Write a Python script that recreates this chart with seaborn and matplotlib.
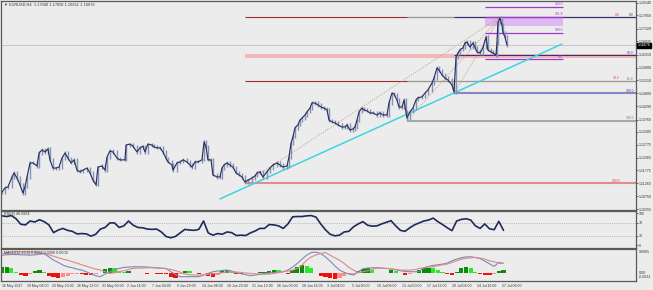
import matplotlib
matplotlib.use("Agg")
import matplotlib.pyplot as plt
import seaborn as sns
import numpy as np
import pandas as pd

sns.set_style("white")
plt.rcParams['font.family'] = ['Liberation Sans', 'DejaVu Sans']

# ---------------- data ----------------
price_bar = [0, 1.9, 3.8, 6.4, 7.7, 9.6, 11.5, 13.4, 14.7, 16.0,
             17.9, 19.8, 22.4, 23.7, 25.6, 27.5, 29.4, 30.7, 32.6, 34.6,
             36.5, 38.4, 40.3, 42.2, 44.2, 46.1, 48.0, 49.9, 51.8, 54.4,
             56.3, 58.2, 60.2, 61.4, 64.0, 65.9, 67.2, 69.1, 71.0, 73.6,
             75.5, 78.7, 79.4, 81.9, 83.8, 86.4, 88.3, 90.2, 91.5, 93.4,
             96.0, 97.3, 99.2, 101.1, 103.0, 105.0, 106.2, 108.8, 109.4, 112.0,
             113.9, 115.8, 118.4, 120.3, 121.6, 123.5, 125.4, 128.0, 129.3, 130.6,
             131.8, 133.8, 135.0, 137.6, 139.5, 140.8, 142.1, 144.0, 145.9, 147.8,
             149.8, 151.7, 153.6, 155.5, 157.4, 160.0, 161.9, 163.2, 165.1, 167.0,
             169.6, 171.5, 173.4, 176.0, 177.9, 179.8, 182.4, 183.7, 185.0, 186.2,
             187.5, 189.4, 190.7, 192.0, 193.9, 195.2, 197.1, 198.4, 200.3, 202.2,
             204.2, 206.1, 208.0, 209.3, 211.2, 213.1, 215.0, 217.6, 219.5, 220.8,
             222.7, 224.6, 225.9, 227.2, 228.5, 230.4, 231.7, 233.6, 235.5, 237.4,
             240.0, 241.9, 243.8, 246.4, 247.7, 249.6, 250.9, 252.8, 254.1, 256.0,
             257.3, 258.6, 259.2, 261.1, 263.0, 265.0, 266.2, 268.8, 270.7, 272.6,
             275.2, 276.5, 278.4, 279.7, 281.6, 283.5, 285.4, 288.0, 289.3, 290.6,
             291.8, 293.1, 295.0, 296.3, 297.6, 299.5, 301.4, 302.7, 304.0, 305.9,
             307.8, 309.8, 311.0, 313.0, 314.2, 316.2, 316.8, 317.4, 318.7, 320.0,
             320.6, 321.9, 323.2]
price_close = [1.1092, 1.1108, 1.1112, 1.1151, 1.1167, 1.1147, 1.1120, 1.1088, 1.1112, 1.1151,
               1.1206, 1.1206, 1.1194, 1.1245, 1.1257, 1.1249, 1.1261, 1.1218, 1.1186, 1.1186,
               1.1190, 1.1225, 1.1245, 1.1225, 1.1206, 1.1218, 1.1178, 1.1171, 1.1178, 1.1186,
               1.1167, 1.1139, 1.1120, 1.1190, 1.1194, 1.1178, 1.1229, 1.1253, 1.1249, 1.1225,
               1.1218, 1.1218, 1.1276, 1.1280, 1.1272, 1.1249, 1.1265, 1.1272, 1.1249, 1.1280,
               1.1276, 1.1269, 1.1265, 1.1265, 1.1249, 1.1225, 1.1210, 1.1198, 1.1178, 1.1206,
               1.1210, 1.1218, 1.1210, 1.1198, 1.1190, 1.1210, 1.1210, 1.1218, 1.1288, 1.1269,
               1.1218, 1.1218, 1.1159, 1.1151, 1.1151, 1.1186, 1.1198, 1.1206, 1.1198, 1.1190,
               1.1167, 1.1159, 1.1151, 1.1131, 1.1139, 1.1147, 1.1155, 1.1167, 1.1171, 1.1151,
               1.1171, 1.1186, 1.1198, 1.1206, 1.1198, 1.1190, 1.1194, 1.1229, 1.1284, 1.1308,
               1.1343, 1.1355, 1.1374, 1.1382, 1.1394, 1.1406, 1.1421, 1.1441, 1.1441, 1.1433,
               1.1425, 1.1421, 1.1414, 1.1374, 1.1367, 1.1363, 1.1355, 1.1347, 1.1347, 1.1355,
               1.1335, 1.1339, 1.1347, 1.1374, 1.1406, 1.1421, 1.1414, 1.1410, 1.1402, 1.1402,
               1.1394, 1.1402, 1.1394, 1.1394, 1.1441, 1.1480, 1.1476, 1.1453, 1.1425, 1.1425,
               1.1453, 1.1406, 1.1382, 1.1406, 1.1421, 1.1453, 1.1461, 1.1465, 1.1480, 1.1492,
               1.1519, 1.1539, 1.1578, 1.1570, 1.1551, 1.1539, 1.1531, 1.1512, 1.1484, 1.1621,
               1.1637, 1.1649, 1.1657, 1.1676, 1.1680, 1.1660, 1.1676, 1.1660, 1.1641, 1.1637,
               1.1657, 1.1700, 1.1649, 1.1641, 1.1637, 1.1629, 1.1676, 1.1755, 1.1774, 1.1747,
               1.1719, 1.1700, 1.1668]

ind_bar = list(range(0, 322, 3))
rsi = [92, 90, 93, 83, 66, 64, 76, 73, 80, 74,
       64, 40, 48, 53, 47, 44, 36, 37, 36, 29,
       35, 51, 56, 70, 70, 56, 61, 76, 63, 56,
       55, 51, 50, 51, 42, 28, 24, 28, 39, 50,
       48, 47, 50, 76, 39, 32, 37, 35, 42, 40,
       31, 32, 31, 39, 45, 53, 53, 65, 64, 61,
       53, 67, 89, 90, 90, 92, 93, 88, 67, 49,
       35, 30, 32, 42, 44, 58, 67, 74, 63, 60,
       61, 67, 72, 77, 61, 47, 44, 55, 64, 70,
       76, 79, 85, 74, 65, 55, 46, 76, 81, 83,
       79, 61, 53, 67, 52, 49, 75, 47]
macd_main = [0.00466, 0.00475, 0.00484, 0.00484, 0.00475, 0.00475, 0.00466, 0.00475, 0.00493, 0.00502,
             0.00422, 0.00334, 0.00273, 0.00202, 0.00158, 0.00132, 0.00097, 0.00070, 0.00026, -0.00035,
             -0.00079, -0.00106, -0.00035, 0.00026, 0.00070, 0.00114, 0.00141, 0.00150, 0.00158, 0.00158,
             0.00158, 0.00150, 0.00141, 0.00132, 0.00123, 0.00114, 0.00026, -0.00044, -0.00106, -0.00106,
             -0.00106, -0.00106, -0.00106, -0.00062, -0.00018, 0.00026, 0.00044, 0.00062, 0.00070, 0.00044,
             0.0, -0.00026, -0.00053, -0.00079, -0.00062, -0.00044, -0.00018, -0.00009, 0.0, 0.00009,
             0.00026, 0.00070, 0.00150, 0.00246, 0.00361, 0.00466, 0.00537, 0.00546, 0.00510, 0.00422,
             0.00308, 0.00185, 0.00070, 0.00009, -0.00035, -0.00062, 0.00026, 0.00106, 0.00123, 0.00132,
             0.00132, 0.00123, 0.00114, 0.00097, 0.00079, 0.00053, 0.00035, 0.00026, 0.00026, 0.00035,
             0.00132, 0.00167, 0.00194, 0.00211, 0.00229, 0.00255, 0.00317, 0.00361, 0.00396, 0.00422,
             0.00422, 0.00405, 0.00378, 0.00308, 0.00238, 0.00167, 0.00273, 0.00246]
macd_signal = [0.00510, 0.00528, 0.00546, 0.00554, 0.00554, 0.00554, 0.00554, 0.00554, 0.00537, 0.00510,
               0.00475, 0.00440, 0.00396, 0.00361, 0.00334, 0.00290, 0.00255, 0.00211, 0.00176, 0.00132,
               0.00097, 0.00070, 0.00026, -0.00018, 0.0, 0.00026, 0.00053, 0.00088, 0.00114, 0.00123,
               0.00123, 0.00132, 0.00132, 0.00123, 0.00114, 0.00106, 0.00088, 0.00053, 0.00018, -0.00035,
               -0.00053, -0.00062, -0.00062, -0.00053, -0.00044, -0.00026, -0.00018, 0.0, 0.00018, 0.00026,
               0.00018, 0.00009, -0.00009, -0.00018, -0.00026, -0.00035, -0.00044, -0.00035, -0.00018, 0.0,
               0.00026, 0.00044, 0.00070, 0.00114, 0.00202, 0.00334, 0.00422, 0.00475, 0.00510, 0.00537,
               0.00466, 0.00396, 0.00334, 0.00246, 0.00141, 0.00070, 0.0, 0.00026, 0.00053, 0.00088,
               0.00123, 0.00123, 0.00114, 0.00106, 0.00088, 0.00070, 0.00070, 0.00070, 0.00079, 0.00114,
               0.00132, 0.00150, 0.00158, 0.00185, 0.00211, 0.00229, 0.00273, 0.00317, 0.00361, 0.00378,
               0.00396, 0.00405, 0.00387, 0.00361, 0.00317, 0.00290, 0.00255, 0.00246]
macd_hist = [0.00150, 0.00158, 0.00114, 0.00026, -0.00062, -0.00079, -0.00044, 0.00053, 0.00070, 0.00026,
             -0.00079, -0.00123, -0.00132, -0.00106, -0.00079, -0.00044, -0.00035, -0.00044, -0.00053, -0.00062,
             -0.00044, -0.00018, 0.00097, 0.00132, 0.00114, 0.00053, 0.00018, 0.00053, 0.0, -0.00018,
             -0.00018, -0.00026, -0.00018, -0.00026, -0.00026, -0.00044, -0.00106, -0.00141, -0.00044, 0.00053,
             0.00035, -0.00009, -0.00026, -0.00018, -0.00079, -0.00106, -0.00062, 0.00053, 0.00070, 0.00044,
             -0.00026, -0.00035, -0.00018, -0.00009, 0.0, 0.00009, 0.00018, 0.00053, 0.00079, 0.00062,
             0.0, -0.00026, 0.00070, 0.00158, 0.00202, 0.00185, 0.00114, -0.00018, -0.00088, -0.00114,
             -0.00150, -0.00167, -0.00150, -0.00097, -0.00044, -0.00035, 0.00035, 0.00097, 0.00114, 0.00062,
             -0.00009, -0.00018, 0.0, 0.00062, 0.00044, -0.00018, -0.00053, -0.00044, -0.00018, 0.00062,
             0.00114, 0.00132, 0.00114, 0.00070, 0.00026, -0.00026, -0.00053, 0.00026, 0.00114, 0.00141,
             0.00114, 0.00009, -0.00035, -0.00053, -0.00062, -0.00035, 0.00053, 0.00062]

price_ticks = [1.18340, 1.17850, 1.17320, 1.16825, 1.16310, 1.15800, 1.15310, 1.14800,
               1.14290, 1.13760, 1.13285, 1.12775, 1.12265, 1.11775, 1.11260, 1.10750, 1.10255]
last_price = 1.16676
rsi_ticks = [100, 70, 30, 0]
date_bar = list(range(0, 321, 16))
date_labels = ["16 May 2017", "19 May 08:00", "23 May 20:00", "26 May 12:00", "31 May 00:00",
               "2 Jun 16:00", "7 Jun 04:00", "9 Jun 20:00", "14 Jun 08:00", "18 Jun 23:00",
               "21 Jun 12:00", "26 Jun 00:00", "28 Jun 16:00", "3 Jul 04:00", "5 Jul 20:00",
               "10 Jul 08:00", "13 Jul 00:00", "17 Jul 12:00", "20 Jul 04:00", "24 Jul 16:00",
               "27 Jul 08:00"]

# Fibonacci tools (anchor bar, low, high)
red_fib = dict(start=155.5, low=1.1126, high=1.1777, hi_bar=318.7)
gray_fib = dict(start=259.2, low=1.13716, high=1.1777, hi_bar=318.7)
blue_fib = dict(start=289.3, low=1.1479, high=1.1777, hi_bar=318.7)
purple_exp = dict(start=309.1, end=359.0, base=1.16122, unit=0.01031)
trend_bar = [139.5, 358.4]
trend_price = [1.1065, 1.1672]

# ---------------- figure ----------------
BG = '#ECECEC'
W, H = 653, 290
fig = plt.figure(figsize=(W / 100, H / 100), dpi=100, facecolor=BG)


def box(x0, y0, x1, y1):
    return [x0 / W, 1 - y1 / H, (x1 - x0) / W, (y1 - y0) / H]


ax = fig.add_axes(box(1, 1, 636, 210))
ax_rsi = fig.add_axes(box(1, 211, 636, 248))
ax_macd = fig.add_axes(box(1, 249, 636, 281))
XL = (-0.64, 405.8)
for a in (ax, ax_rsi, ax_macd):
    a.set_facecolor(BG)
    a.set_xlim(*XL)
    for s in a.spines.values():
        s.set_color('#5A5A5A')
        s.set_linewidth(0.9)

FS = 2.6
LFS = 2.4
RIGHT_LBL = 404.5
RED_LBL = 395.5


def lvl(f, r):
    return f['high'] - (f['high'] - f['low']) * r / 100.0


# red fib
ax.hlines(lvl(red_fib, 23.6), red_fib['start'], XL[1], color='#F2B9B9', lw=2.9, zorder=1)
ax.hlines(lvl(red_fib, 0), red_fib['start'], XL[1], color='#9B2D2D', lw=0.8, zorder=1)
ax.hlines(lvl(red_fib, 38.2), red_fib['start'], XL[1], color='#9B2D2D', lw=0.8, zorder=1)
ax.hlines(lvl(red_fib, 100), red_fib['start'], XL[1], color='#DE8E8E', lw=1.5, zorder=1)
# gray fib
ax.hlines(lvl(gray_fib, 0), gray_fib['start'], XL[1], color='#9A9A9A', lw=0.8, zorder=1.1)
ax.hlines(lvl(gray_fib, 61.8), gray_fib['start'], XL[1], color='#9A9A9A', lw=0.8, zorder=1.1)
ax.hlines(lvl(gray_fib, 100), gray_fib['start'], XL[1], color='#A8A8A8', lw=1.5, zorder=1.1)
# blue fib
ax.hlines(lvl(blue_fib, 0), blue_fib['start'], XL[1], color='#33337A', lw=0.8, zorder=1.2)
ax.hlines(lvl(blue_fib, 50), blue_fib['start'], XL[1], color='#33337A', lw=0.8, zorder=1.2)
ax.hlines(lvl(blue_fib, 100), blue_fib['start'], XL[1], color='#8585C8', lw=1.5, zorder=1.2)
# anchor dotted lines
for f in (red_fib, gray_fib, blue_fib):
    ax.plot([f['start'], f['hi_bar']], [f['low'], f['high']], ls=(0, (1, 1.4)),
            color='#C9987A', lw=0.7, zorder=1.3)
# purple expansion
pe = purple_exp
ax.fill_between([pe['start'], pe['end']], pe['base'] + 1.272 * pe['unit'],
                pe['base'] + 1.618 * pe['unit'], color='#DDB8F2', lw=0, zorder=1)
for r in (0, 1.0, 1.618, 2.0):
    ax.hlines(pe['base'] + r * pe['unit'], pe['start'], pe['end'], color='#A035D2', lw=0.9, zorder=1.4)
    ax.text(pe['end'], pe['base'] + r * pe['unit'] + 0.0002, f"{r*100:.1f}", fontsize=LFS,
            color='#A035D2', ha='right', va='bottom')

# level labels
for r, t in ((0, '0.0'), (38.2, '38.2'), (100, '100.0')):
    ax.text(RED_LBL, lvl(red_fib, r) + 0.0002, t, fontsize=LFS, color='#C84848', ha='right', va='bottom')
for r, t in ((61.8, '61.8'), (100, '100.0')):
    ax.text(RIGHT_LBL, lvl(gray_fib, r) + 0.0002, t, fontsize=LFS, color='#7E7E7E', ha='right', va='bottom')
for r, t in ((0, '0.0'), (50, '50.0'), (100, '100.0')):
    ax.text(RIGHT_LBL, lvl(blue_fib, r) + 0.0002, t, fontsize=LFS, color='#4848A0', ha='right', va='bottom')

# bid line
ax.axhline(last_price, color='#C6C6C6', lw=0.7, zorder=1.5)

# trend line
ax.plot(trend_bar, trend_price, color='#3ED4DE', lw=1.1, zorder=2)

# price bars
df = pd.DataFrame({'bar': price_bar, 'close': price_close})
prev = df['close'].shift(1).fillna(df['close'])
lo = np.minimum(prev, df['close'])
hi = np.maximum(prev, df['close'])
ax.vlines(df['bar'], lo - 0.0006, hi + 0.0006, color='#8692B6', lw=1.0, zorder=3)
sns.lineplot(data=df, x='bar', y='close', ax=ax, color='#27325F', lw=0.85, zorder=4)

ax.set_ylim(1.10216, 1.18407)
ax.set_xlabel('')
ax.set_ylabel('')
ax.set_xticks([])
ax.yaxis.tick_right()
ax.set_yticks(price_ticks)
ax.set_yticklabels([f"{v:.5f}" for v in price_ticks])
ax.tick_params(axis='y', labelsize=FS, length=1.2, pad=0.6, colors='#333333', width=0.5)
ax.text(1.0025, last_price, '1.16676', transform=ax.get_yaxis_transform(), fontsize=FS,
        color='white', ha='left', va='center',
        bbox=dict(facecolor='black', edgecolor='black', pad=0.3))
ax.text(0.004, 0.982, '\u25BC EURUSD,H4  1.17040 1.17058 1.16651 1.16676', transform=ax.transAxes,
        fontsize=2.8, color='#333333', ha='left', va='center')

# RSI
rdf = pd.DataFrame({'bar': ind_bar, 'rsi': rsi})
for v in (70, 30):
    ax_rsi.axhline(v, color='#A8A8A8', lw=0.5, ls=(0, (1.5, 1.5)))
sns.lineplot(data=rdf, x='bar', y='rsi', ax=ax_rsi, color='#1E2A5A', lw=1.2)
ax_rsi.set_ylim(-7.8, 107.1)
ax_rsi.set_xlabel('')
ax_rsi.set_ylabel('')
ax_rsi.set_xticks([])
ax_rsi.yaxis.tick_right()
ax_rsi.set_yticks(rsi_ticks)
ax_rsi.set_yticklabels([str(v) for v in rsi_ticks])
ax_rsi.tick_params(axis='y', labelsize=FS, length=1.2, pad=0.6, colors='#333333', width=0.5)
ax_rsi.text(0.004, 0.91, 'RSI(8) 46.5664', transform=ax_rsi.transAxes, fontsize=2.7,
            color='#333333', ha='left', va='center')

# MACD
mdf = pd.DataFrame({'bar': ind_bar, 'main': macd_main, 'signal': macd_signal, 'hist': macd_hist})
hv = mdf['hist'].to_numpy()
dh = np.diff(hv, prepend=hv[0])
cols = []
for v, d in zip(hv, dh):
    if v >= 0:
        cols.append('#0E8A0E' if d >= 0 else '#2EE82E')
    else:
        cols.append('#EE1010' if d <= 0 else '#FF8C8C')
ax_macd.bar(mdf['bar'], mdf['hist'], width=2.7, color=cols, lw=0, zorder=2)
sns.lineplot(data=mdf, x='bar', y='main', ax=ax_macd, color='#7E88B2', lw=0.8, zorder=3)
sns.lineplot(data=mdf, x='bar', y='signal', ax=ax_macd, color='#D98A8A', lw=0.8, zorder=3)
ax_macd.set_ylim(-0.0022, 0.0063)
ax_macd.set_xlabel('')
ax_macd.set_ylabel('')
ax_macd.set_yticks([])
for t, yf in (('0.0065', 0.906), ('0.00', 0.259), ('-0.0022', 0.125)):
    ax_macd.text(1.004, yf, t, transform=ax_macd.transAxes, fontsize=FS, color='#333333',
                 ha='left', va='center')
ax_macd.text(0.004, 0.88, 'MACD(12,26,9) 0.0002 0.0006 0.0004', transform=ax_macd.transAxes,
             fontsize=2.7, color='#333333', ha='left', va='center')
ax_macd.set_xticks(date_bar)
ax_macd.set_xticklabels(date_labels, ha='left')
ax_macd.tick_params(axis='x', labelsize=2.5, length=1.2, pad=1.0, colors='#333333', width=0.5)

fig.savefig('out.png', dpi=100, facecolor=BG)
